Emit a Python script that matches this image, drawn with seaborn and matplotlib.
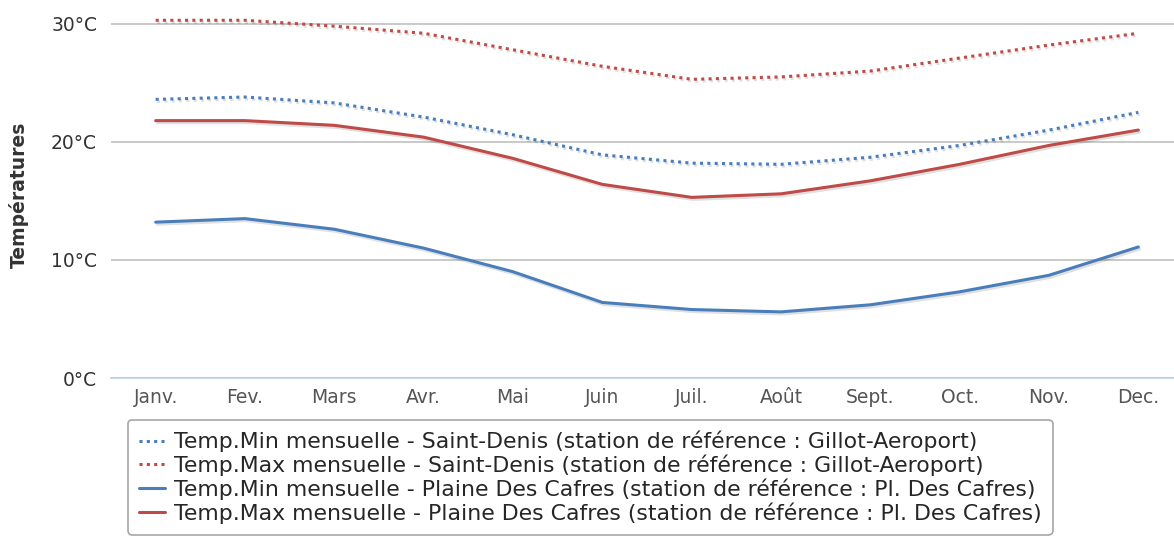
import matplotlib
matplotlib.use('Agg')
import matplotlib.pyplot as plt
import matplotlib.patheffects as pe
import numpy as np
import pandas as pd
import seaborn as sns

months = ['Janv.', 'Fev.', 'Mars', 'Avr.', 'Mai', 'Juin', 'Juil.', 'Août',
          'Sept.', 'Oct.', 'Nov.', 'Dec.']

# monthly temperatures (°C)
sd_min = [23.6, 23.8, 23.3, 22.1, 20.6, 18.9, 18.2, 18.1, 18.7, 19.7, 21.0, 22.5]
sd_max = [30.3, 30.3, 29.8, 29.2, 27.8, 26.4, 25.3, 25.5, 26.0, 27.1, 28.2, 29.2]
pc_min = [13.2, 13.5, 12.6, 11.0, 9.0, 6.4, 5.8, 5.6, 6.2, 7.3, 8.7, 11.1]
pc_max = [21.8, 21.8, 21.4, 20.4, 18.6, 16.4, 15.3, 15.6, 16.7, 18.1, 19.7, 21.0]

labels = [
    'Temp.Min mensuelle - Saint-Denis (station de référence : Gillot-Aeroport)',
    'Temp.Max mensuelle - Saint-Denis (station de référence : Gillot-Aeroport)',
    'Temp.Min mensuelle - Plaine Des Cafres (station de référence : Pl. Des Cafres)',
    'Temp.Max mensuelle - Plaine Des Cafres (station de référence : Pl. Des Cafres)',
]

BLUE = '#4a7ebb'
RED = '#be4b48'

sns.set_style('white')
plt.rcParams['font.family'] = ['DejaVu Sans']

fig = plt.figure(figsize=(11.74, 5.37), dpi=100)
# axes spans slightly past the right edge, like the cropped original
ax = fig.add_axes([111 / 1174, 1 - 378 / 537, 1072 / 1174, (378 - 12) / 537])

x = np.arange(len(months))
dot = (0, (1, 1.4))
series = [(sd_min, BLUE, dot), (sd_max, RED, dot),
          (pc_min, BLUE, '-'), (pc_max, RED, '-')]
shadow = [pe.SimpleLineShadow(offset=(1, -1.5), alpha=0.12, shadow_color='black'), pe.Normal()]

for (vals, color, ls), lab in zip(series, labels):
    df = pd.DataFrame({'x': x, 'y': vals})
    sns.lineplot(data=df, x='x', y='y', ax=ax, color=color, lw=2.2,
                 linestyle=ls, label=lab, legend=False, path_effects=shadow)

ax.set_xlim(-0.5, 11.5)
ax.set_ylim(0, 31)
ax.set_yticks([0, 10, 20, 30])
ax.set_yticklabels(['0°C', '10°C', '20°C', '30°C'], fontsize=13.5, color='#333333')
ax.set_xticks(x)
ax.set_xticklabels(months, fontsize=13.5, color='#555555')
ax.set_xticks(np.arange(-0.5, 12, 1), minor=True)
ax.tick_params(axis='x', which='major', length=0, pad=7)
ax.tick_params(axis='x', which='minor', length=6, color='#c0d0e0', width=1.2)
ax.tick_params(axis='y', length=0, pad=10)
ax.grid(axis='y', color='#c0c0c0', lw=1.2)
ax.set_axisbelow(True)
for s in ['top', 'right', 'left']:
    ax.spines[s].set_visible(False)
ax.spines['bottom'].set_color('#c0d0e0')
ax.spines['bottom'].set_linewidth(1.2)
ax.set_xlabel('')
ax.set_ylabel('Températures', fontsize=13.5, fontweight='bold', color='#333333', labelpad=16)

handles, labs = ax.get_legend_handles_labels()
leg = fig.legend(handles, labs, loc='upper left', bbox_to_anchor=(128 / 1174, 1 - 420 / 537),
                 fontsize=15.8, frameon=True, fancybox=True, handlelength=1.2,
                 handletextpad=0.4, labelspacing=0.1, borderpad=0.5, borderaxespad=0)
leg.get_frame().set_edgecolor('#909090')
leg.get_frame().set_linewidth(1.2)
for line in leg.get_lines():
    line.set_path_effects([])

fig.savefig('out.png', dpi=100)
